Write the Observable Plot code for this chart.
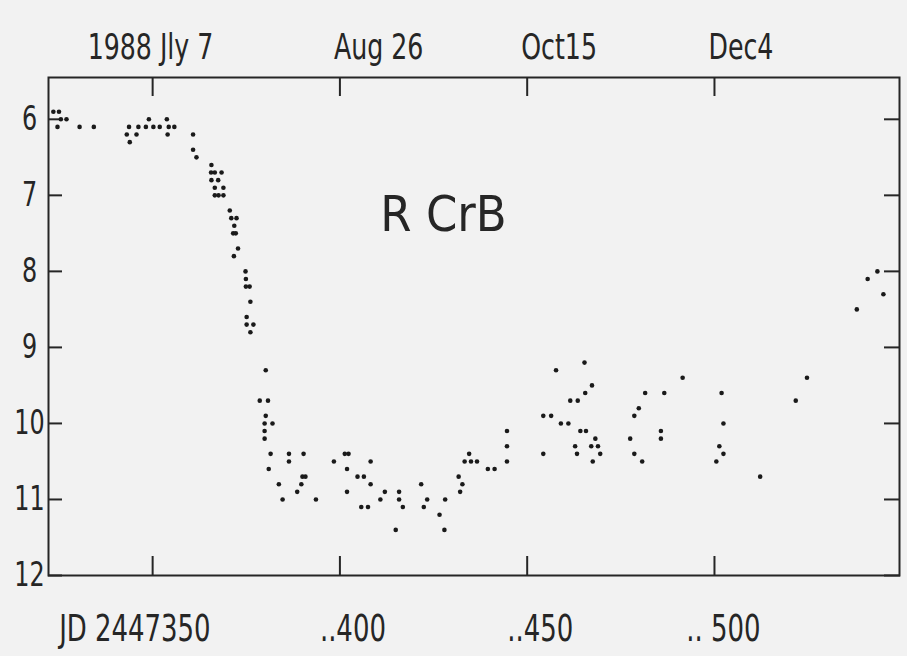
<!DOCTYPE html>
<html><head><meta charset="utf-8">
<script src="https://cdn.jsdelivr.net/npm/d3@7"></script>
<script src="https://cdn.jsdelivr.net/npm/@observablehq/plot@0.6"></script>
<style>
html,body{margin:0;padding:0;background:#f2f2f2;}
</style></head><body><div id="chart"></div>
<script>
// Julian Date minus 2447000, and visual magnitude
const jd = [
  323.5,325.0,325.5,327.0,324.6,330.5,334.3,343.7,343.1,345.7,343.9,349.0,346.2,348.2,350.2,353.8,351.9,354.3,355.8,354.0,
  360.8,360.8,361.7,365.7,365.6,366.6,368.4,365.7,367.5,366.6,368.9,366.6,367.6,368.9,370.6,371.0,372.4,371.8,371.5,372.2,
  372.8,371.7,374.8,374.9,374.9,375.9,376.1,375.1,375.1,376.9,376.1,380.2,378.6,380.8,380.2,379.9,382.0,379.9,379.9,381.5,
  381.0,383.7,384.7,
  386.4,386.4,390.3,390.0,390.8,389.7,388.6,393.6,398.4,401.3,402.3,401.9,401.9,404.7,406.4,408.2,408.2,405.7,407.5,412.0,
  410.8,415.8,415.8,416.8,414.9,421.7,423.3,422.4,428.1,426.6,427.9,431.7,432.7,432.1,434.5,433.3,435.0,436.6,439.5,441.3,
  444.6,444.6,444.6,
  454.3,456.4,454.3,459.0,461.0,461.5,463.5,464.2,465.7,462.8,463.3,457.7,465.3,467.3,465.5,468.2,467.1,468.9,469.5,467.5,
  481.5,486.6,491.5,479.8,478.6,477.5,478.6,480.7,485.7,485.7,501.9,502.4,501.3,502.4,500.5,512.2,521.7,524.7,538.0,540.9,
  543.5,545.1
];
const mag = [
  5.9,5.9,6.0,6.0,6.1,6.1,6.1,6.1,6.2,6.2,6.3,6.0,6.1,6.1,6.1,6.0,6.1,6.1,6.1,6.2,
  6.2,6.4,6.5,6.6,6.7,6.7,6.7,6.8,6.8,6.9,6.9,7.0,7.0,7.0,7.2,7.3,7.3,7.4,7.5,7.5,
  7.7,7.8,8.0,8.1,8.2,8.2,8.4,8.6,8.7,8.7,8.8,9.3,9.7,9.7,9.9,10.0,10.0,10.1,10.2,10.4,
  10.6,10.8,11.0,
  10.4,10.5,10.4,10.7,10.7,10.8,10.9,11.0,10.5,10.4,10.4,10.6,10.9,10.7,10.7,10.5,10.8,11.1,11.1,10.9,
  11.0,10.9,11.0,11.1,11.4,10.8,11.0,11.1,11.0,11.2,11.4,10.7,10.8,10.9,10.4,10.5,10.5,10.5,10.6,10.6,
  10.1,10.3,10.5,
  9.9,9.9,10.4,10.0,10.0,9.7,9.7,10.1,10.1,10.3,10.4,9.3,9.2,9.5,9.6,10.2,10.3,10.3,10.4,10.5,
  9.6,9.6,9.4,9.8,9.9,10.2,10.4,10.5,10.1,10.2,9.6,10.0,10.3,10.4,10.5,10.7,9.7,9.4,8.5,8.1,
  8.0,8.3
];
const tickJD = [350, 400, 450, 500];
const topLabels = ["1988 Jly 7", "Aug 26", "Oct15", "Dec4"];
const bottomLabels = ["JD 2447350", "..400", "..450", ".. 500"];
const magTicks = [6, 7, 8, 9, 10, 11, 12];
const starName = [{name: "R CrB", jd: 410.8, mag: 7.26}];

const points = jd.map((d, i) => ({jd: d, mag: mag[i]}));
const topData = tickJD.map((d, i) => ({jd: d, text: topLabels[i]}));
const bottomData = tickJD.map((d, i) => ({jd: d, text: bottomLabels[i]}));
const font = "'DejaVu Sans Condensed','DejaVu Sans',sans-serif";
const ink = "#262626";

const chart = Plot.plot({
  width: 907, height: 656,
  marginLeft: 48, marginRight: 8, marginTop: 77, marginBottom: 81,
  style: {background: "#f2f2f2", fontFamily: font, color: ink},
  x: {domain: [322.2, 549.4], label: null},
  y: {domain: [5.45, 12], reverse: true, label: null},
  marks: [
    Plot.frame({stroke: ink, strokeWidth: 2}),
    // inward tick marks
    Plot.axisX(tickJD, {anchor: "top", tickSize: 18, dy: 18, strokeWidth: 2, stroke: ink, fill: "none", label: null}),
    Plot.axisX(tickJD, {anchor: "bottom", tickSize: 19, dy: -19, strokeWidth: 2, stroke: ink, fill: "none", label: null}),
    Plot.axisY(magTicks, {anchor: "left", tickSize: 14, dx: 14, strokeWidth: 2, stroke: ink, fill: "none", label: null}),
    Plot.axisY(magTicks, {anchor: "right", tickSize: 16, dx: -16, strokeWidth: 2, stroke: ink, fill: "none", label: null}),
    // date labels above the frame
    Plot.text(topData.slice(0, 1), {x: "jd", text: "text", frameAnchor: "top", dy: -19, dx: -65, textAnchor: "start", lineAnchor: "bottom", fontSize: 36, fill: ink}),
    Plot.text(topData.slice(1), {x: "jd", text: "text", frameAnchor: "top", dy: -19, dx: -6, textAnchor: "start", lineAnchor: "bottom", fontSize: 36, fill: ink}),
    // JD labels below the frame
    Plot.text(bottomData.slice(0, 1), {x: "jd", text: "text", frameAnchor: "bottom", dy: 39, dx: 58, textAnchor: "end", lineAnchor: "top", fontSize: 37, fill: ink}),
    Plot.text(bottomData.slice(1), {x: "jd", text: "text", frameAnchor: "bottom", dy: 39, dx: 46, textAnchor: "end", lineAnchor: "top", fontSize: 37, fill: ink}),
    // magnitude labels
    Plot.axisY(magTicks, {anchor: "left", tickSize: 0, tickPadding: 19, tickFormat: d => String(d), textAnchor: "middle", fontSize: 34, fill: ink, label: null}),
    Plot.text(starName, {x: "jd", y: "mag", text: "name", fontSize: 50, textAnchor: "start", lineAnchor: "middle", fill: ink}),
    Plot.dot(points, {x: "jd", y: "mag", r: 2.3, fill: "#1a1a1a", stroke: null})
  ]
});
// narrow the lettering of the axis labels (condensed hand-lettering look)
const starNames = new Set(starName.map(d => d.name));
chart.querySelectorAll("text").forEach(t => {
  if (starNames.has(t.textContent)) return;
  const tr = t.getAttribute("transform") || "";
  t.setAttribute("transform", tr + " scale(0.78,1)");
});
document.getElementById("chart").appendChild(chart);
</script></body></html>
